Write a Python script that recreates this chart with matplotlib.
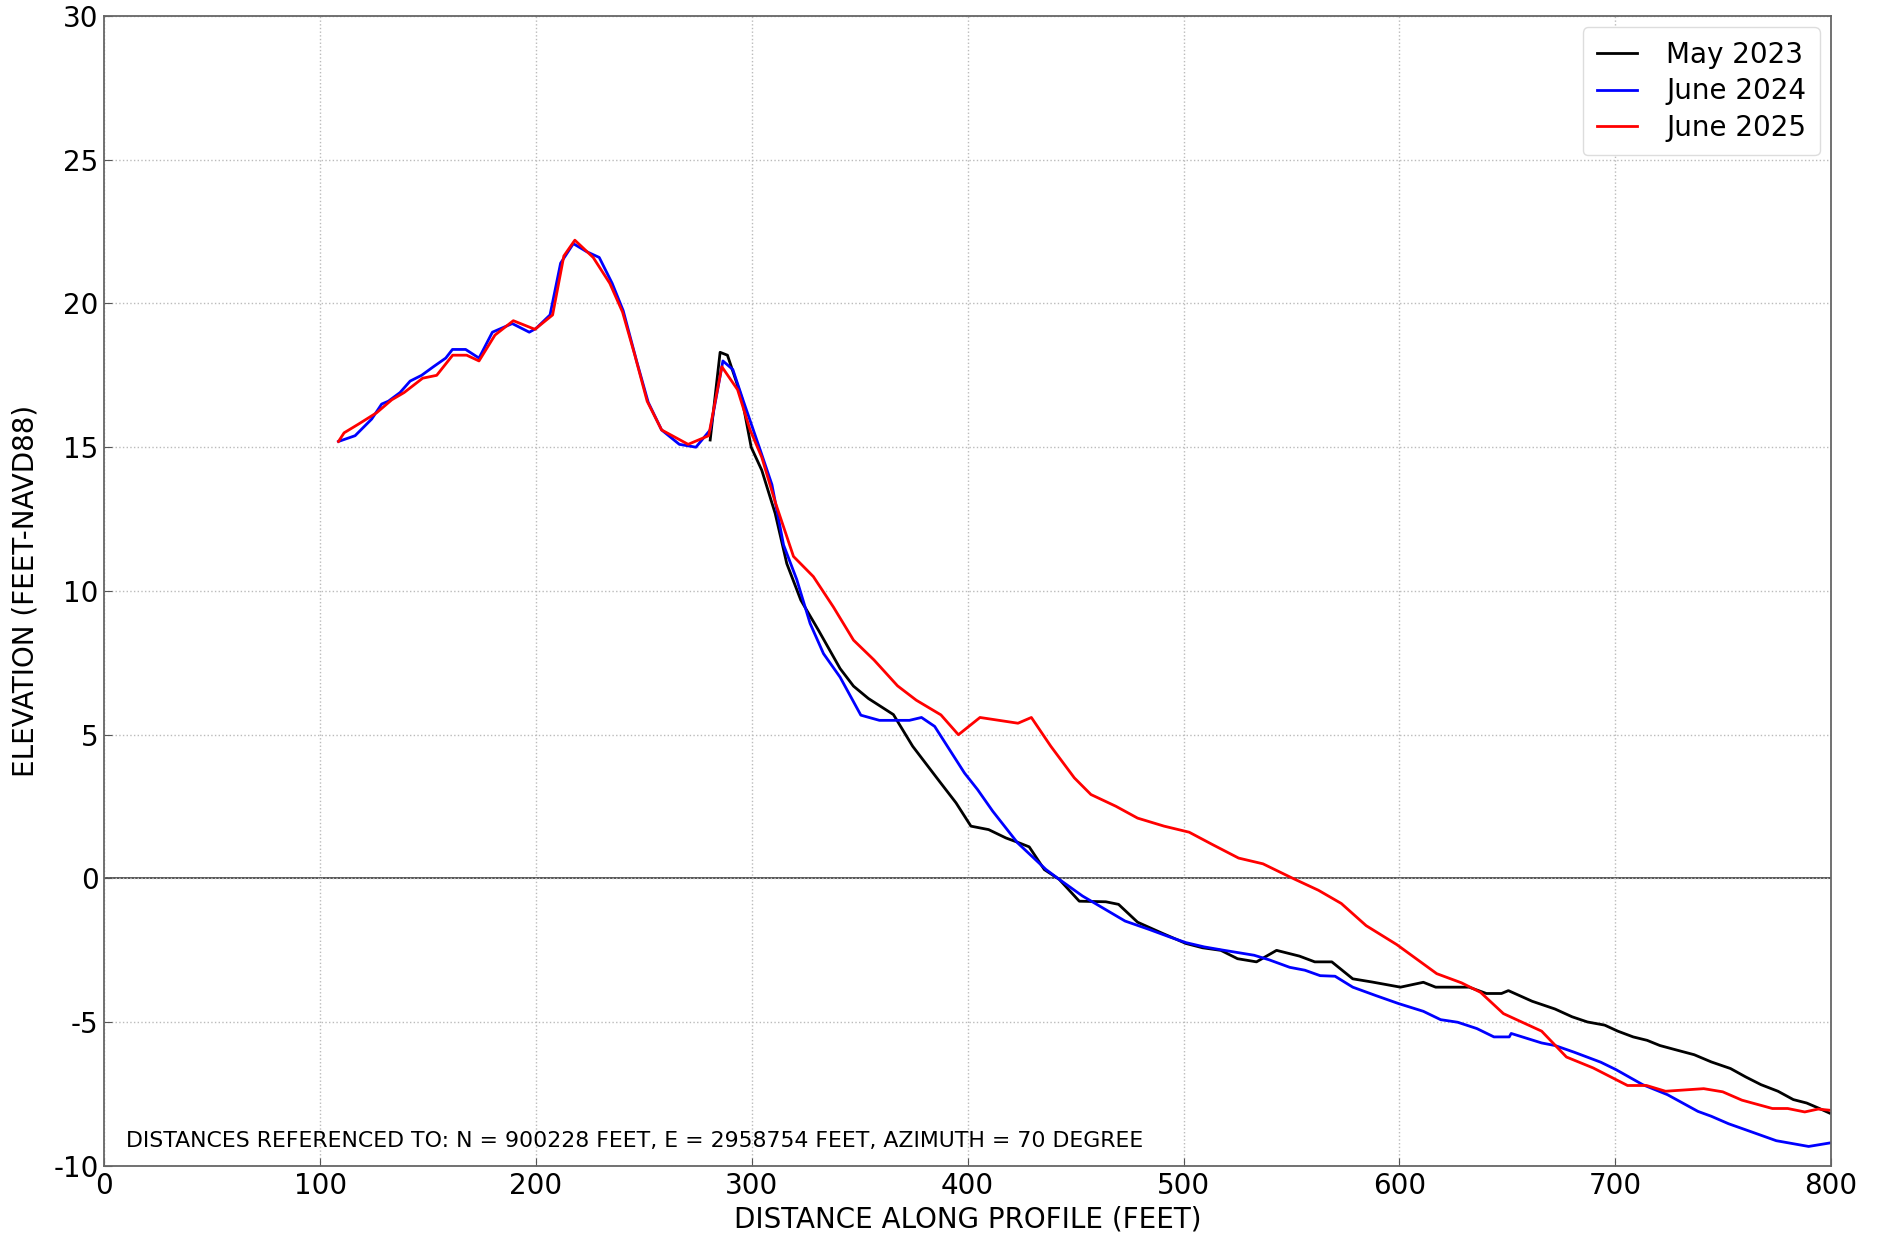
import matplotlib
matplotlib.use("Agg")
import matplotlib.pyplot as plt

# ---- Data ----
may2023_x = [280.7, 285.3, 288.7, 295.4, 299.7, 304.6, 310.8, 316.2, 322.7, 330.9, 340.9, 347.1,
             354.0, 365.6, 374.5, 386.9, 394.6, 401.5, 409.7, 417.7, 423.1, 428.5, 435.5, 442.4,
             451.7, 464.0, 469.9, 478.7, 490.3, 501.1, 508.8, 517.3, 525.0, 533.8, 543.1, 553.7,
             560.8, 568.7, 578.4, 587.3, 600.5, 611.1, 616.8, 632.3, 640.3, 647.3, 650.5, 661.5,
             672.1, 680.0, 687.1, 695.1, 701.2, 708.3, 714.8, 720.7, 728.6, 736.6, 744.5, 753.4,
             760.4, 767.5, 775.4, 782.5, 788.7, 794.0, 799.3]
may2023_y = [15.25, 18.3, 18.2, 16.7, 15.0, 14.2, 12.7, 10.95, 9.68, 8.63, 7.3, 6.69,
             6.26, 5.7, 4.6, 3.38, 2.63, 1.82, 1.70, 1.41, 1.26, 1.1, 0.31, -0.03,
             -0.79, -0.81, -0.9, -1.52, -1.91, -2.26, -2.41, -2.5, -2.79, -2.9, -2.5, -2.7,
             -2.9, -2.9, -3.49, -3.6, -3.78, -3.61, -3.78, -3.78, -4.0, -4.0, -3.9, -4.27,
             -4.54, -4.81, -4.99, -5.1, -5.31, -5.51, -5.63, -5.81, -5.97, -6.13, -6.38, -6.61,
             -6.9, -7.17, -7.4, -7.69, -7.81, -7.98, -8.16]

june2024_x = [108.5, 116.2, 123.9, 128.5, 131.6, 137.0, 141.7, 147.0, 152.5, 158.2, 161.3, 167.4,
              173.6, 179.8, 189.0, 196.9, 200.0, 206.5, 211.4, 217.3, 223.5, 229.3, 235.3, 240.4,
              246.6, 252.0, 258.2, 266.4, 274.1, 280.7, 286.6, 291.2, 296.1, 303.9, 309.3, 314.7,
              320.8, 327.0, 333.2, 340.9, 350.5, 359.1, 373.0, 378.6, 384.7, 398.5, 404.6, 411.6,
              423.1, 436.3, 442.4, 453.2, 462.5, 472.9, 484.0, 493.4, 501.1, 509.6, 518.1, 532.7,
              539.7, 549.2, 556.2, 563.3, 570.2, 578.4, 589.0, 599.6, 611.1, 619.1, 627.0, 635.9,
              643.8, 650.9, 651.8, 665.9, 672.1, 680.9, 693.3, 700.4, 712.7, 724.2, 738.3, 744.5,
              752.5, 760.4, 774.6, 789.6, 799.3]
june2024_y = [15.2, 15.4, 15.98, 16.5, 16.6, 16.9, 17.3, 17.5, 17.8, 18.1, 18.4, 18.4,
              18.1, 19.0, 19.3, 19.0, 19.13, 19.6, 21.4, 22.08, 21.8, 21.6, 20.7, 19.75,
              18.0, 16.56, 15.6, 15.1, 15.0, 15.6, 18.0, 17.7, 16.6, 14.9, 13.7, 11.6,
              10.4, 8.87, 7.82, 7.0, 5.68, 5.5, 5.5, 5.6, 5.29, 3.67, 3.09, 2.34,
              1.24, 0.31, -0.03, -0.61, -1.02, -1.48, -1.77, -2.03, -2.23, -2.38, -2.49, -2.67,
              -2.83, -3.09, -3.19, -3.38, -3.4, -3.78, -4.07, -4.35, -4.62, -4.91, -5.0, -5.22,
              -5.51, -5.51, -5.39, -5.72, -5.81, -6.04, -6.39, -6.65, -7.17, -7.52, -8.1, -8.27,
              -8.53, -8.74, -9.12, -9.32, -9.2]

june2025_x = [108.5, 111.1, 117.7, 126.2, 133.2, 138.9, 147.5, 154.0, 161.4, 167.9, 173.6, 181.0,
              189.5, 199.5, 207.7, 212.9, 218.0, 226.5, 234.2, 240.1, 245.8, 251.5, 258.2, 270.5,
              280.0, 286.1, 293.4, 299.2, 304.6, 310.8, 319.3, 328.5, 337.8, 347.1, 356.6, 367.5,
              376.2, 387.6, 395.7, 405.7, 423.3, 429.5, 438.5, 449.4, 457.1, 468.7, 478.7, 491.0,
              502.6, 513.4, 525.5, 536.8, 550.2, 562.5, 573.1, 584.6, 598.8, 617.3, 628.8, 637.6,
              648.2, 665.9, 677.4, 689.8, 705.7, 714.5, 723.3, 741.0, 749.8, 758.7, 772.8, 779.9,
              787.8, 794.0, 799.3]
june2025_y = [15.2, 15.5, 15.8, 16.2, 16.65, 16.9, 17.4, 17.5, 18.2, 18.2, 18.0, 18.9,
              19.4, 19.1, 19.6, 21.65, 22.2, 21.6, 20.7, 19.7, 18.2, 16.6, 15.6, 15.1,
              15.4, 17.8, 17.0, 15.6, 14.65, 13.1, 11.2, 10.5, 9.44, 8.29, 7.6, 6.7,
              6.2, 5.69, 5.0, 5.6, 5.4, 5.6, 4.6, 3.5, 2.92, 2.51, 2.1, 1.82,
              1.61, 1.18, 0.71, 0.51, 0.02, -0.41, -0.87, -1.64, -2.3, -3.31, -3.63, -3.96,
              -4.7, -5.31, -6.21, -6.59, -7.2, -7.2, -7.4, -7.31, -7.42, -7.71, -8.0, -8.0,
              -8.12, -8.02, -8.06]

series_labels = ["May 2023", "June 2024", "June 2025"]
series_colors = ["black", "blue", "red"]

x_ticks = [0, 100, 200, 300, 400, 500, 600, 700, 800]
y_ticks = [-10, -5, 0, 5, 10, 15, 20, 25, 30]
note = "DISTANCES REFERENCED TO: N = 900228 FEET, E = 2958754 FEET, AZIMUTH = 70 DEGREE"

# ---- Plot ----
plt.rcParams['font.family'] = ['DejaVu Sans']
fig = plt.figure(figsize=(18.79, 12.44), dpi=100)
ax = fig.add_axes([0.0555, 0.0627, 0.919, 0.9245])

ax.axhline(0, color='#555555', lw=1.4, zorder=1)
for xs, ys, lab, col in zip([may2023_x, june2024_x, june2025_x],
                            [may2023_y, june2024_y, june2025_y],
                            series_labels, series_colors):
    ax.plot(xs, ys, color=col, lw=2.0, label=lab, zorder=2)

ax.set_xlim(0, 800)
ax.set_ylim(-10, 30)
ax.set_xticks(x_ticks)
ax.set_yticks(y_ticks)
ax.set_xticklabels([str(v) for v in x_ticks])
ax.set_yticklabels([str(v) for v in y_ticks])
ax.tick_params(direction='in', labelsize=20, length=6, color='#555555', pad=4)
ax.grid(True, linestyle=':', color='#bbbbbb', lw=1.0)
for s in ax.spines.values():
    s.set_color('#666666')
    s.set_linewidth(1.3)

ax.set_xlabel("DISTANCE ALONG PROFILE (FEET)", fontsize=20, labelpad=4)
ax.set_ylabel("ELEVATION (FEET-NAVD88)", fontsize=20, labelpad=10)

ax.text(0.0125, 0.022, note, transform=ax.transAxes, fontsize=15.8, ha='left', va='center')

leg = ax.legend(loc='upper right', fontsize=20, handlelength=1.45, handletextpad=1.05,
                borderpad=0.5, labelspacing=0.3, framealpha=1.0, borderaxespad=0.4)
leg.get_frame().set_edgecolor('#dddddd')

fig.savefig("out.png", dpi=100)
